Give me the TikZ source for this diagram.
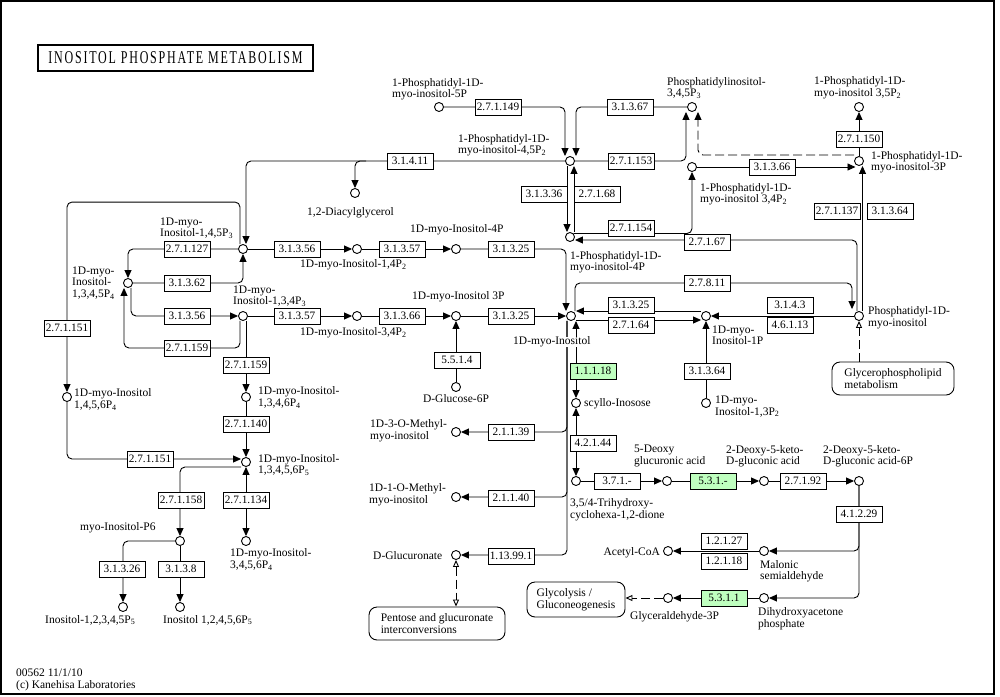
\documentclass[tikz,border=0pt]{standalone}
\usepackage{fontspec}
\setmainfont{Liberation Serif}
\usepackage{graphicx}
\usetikzlibrary{arrows.meta, backgrounds, positioning}
\definecolor{ecgreen}{HTML}{BFFFBF}
\newcommand{\subn}[1]{\textsubscript{#1}}

\begin{document}
\begin{tikzpicture}[x=1pt, y=-1pt,% pixel grid, y going down
         > = {Triangle[length=8pt,width=7pt]},
 cpd/.style = {circle, draw, fill=white, line width=0.9pt,
               minimum size=9pt, inner sep=0pt},
  ec/.style = {draw, fill=white, line width=0.9pt,
               minimum width=46pt, minimum height=16pt, inner sep=0pt,
               font=\fontsize{11.3}{11.3}\selectfont},
 ecg/.style = {ec, fill=ecgreen},
 lbl/.style = {inner sep=0pt, align=left,
               font=\fontsize{11.5}{11.5}\selectfont},
 map/.style = {draw, fill=white, line width=0.9pt, rounded corners=8pt,
               inner sep=0pt, align=left,
               font=\fontsize{11.5}{11.5}\selectfont},
  rx/.style = {line width=0.9pt, rounded corners=5pt},
oarr/.style = {line width=0.9pt, dash pattern=on 9pt off 4pt}
                    ]
	\useasboundingbox (0,0) rectangle (1000,696);
	\draw[line width=1.5pt] (1,1) rectangle (994,694);

	% title and footer
	\node[draw, line width=2pt, minimum width=275pt, minimum height=26pt, inner sep=0pt]
	     (title) at (175.5,58)
	     {\fontsize{12}{12}\selectfont\scalebox{1}[1.5]{\addfontfeatures{LetterSpace=15}INOSITOL PHOSPHATE METABOLISM}};
	\node[lbl, anchor=west] (foot) at (16,680) {00562 11/1/10\\(c) Kanehisa Laboratories};

	% compounds
	\node[cpd] (c_pi5p)     at (439,107) {};
	\node[cpd] (c_pip2)     at (570,161) {};
	\node[cpd] (c_pip3)     at (692,107) {};
	\node[cpd] (c_pi35p2)   at (859,107) {};
	\node[cpd] (c_pi3p)     at (859,161) {};
	\node[cpd] (c_pi34p2)   at (692,167) {};
	\node[cpd] (c_dag)      at (355,193) {};
	\node[cpd] (c_pi4p)     at (570,237) {};
	\node[cpd] (c_ip3)      at (243,249) {};
	\node[cpd] (c_ip2a)     at (357,249) {};
	\node[cpd] (c_ins4p)    at (456,249) {};
	\node[cpd] (c_ip4)      at (128,283) {};
	\node[cpd] (c_ins134p3) at (243,316) {};
	\node[cpd] (c_ip2b)     at (357,316) {};
	\node[cpd] (c_ins3p)    at (456,316) {};
	\node[cpd] (c_mi)       at (571,316) {};
	\node[cpd] (c_ins1p)    at (706,316) {};
	\node[cpd] (c_pi)       at (859,316) {};
	\node[cpd] (c_glc6p)    at (456,387) {};
	\node[cpd] (c_ins1456p4) at (67,397) {};
	\node[cpd] (c_ins1346p4) at (246,397) {};
	\node[cpd] (c_scyllo)   at (576,403) {};
	\node[cpd] (c_ins13p2)  at (706,403) {};
	\node[cpd] (c_m3)       at (456,432) {};
	\node[cpd] (c_ip5)      at (246,462) {};
	\node[cpd] (c_thd)      at (576,481) {};
	\node[cpd] (c_deoxy)    at (667,481) {};
	\node[cpd] (c_dkg)      at (764,481) {};
	\node[cpd] (c_dkgp)     at (859,481) {};
	\node[cpd] (c_m1)       at (456,497) {};
	\node[cpd] (c_ip6)      at (180,541) {};
	\node[cpd] (c_ins3456p4) at (246,541) {};
	\node[cpd] (c_acoa)     at (668,551) {};
	\node[cpd] (c_mal)      at (764,551) {};
	\node[cpd] (c_glcA)     at (456,555) {};
	\node[cpd] (c_gap)      at (668,598) {};
	\node[cpd] (c_dhap)     at (764,598) {};
	\node[cpd] (c_ip5a)     at (123,607) {};
	\node[cpd] (c_ip5b)     at (180,607) {};

	% enzymes
	\node[ec]  (e_271149)  at (498,107) {2.7.1.149};
	\node[ec]  (e_31367)   at (630,107) {3.1.3.67};
	\node[ec]  (e_31411)   at (410,161) {3.1.4.11};
	\node[ec]  (e_271153)  at (631,161) {2.7.1.153};
	\node[ec]  (e_271150)  at (859,139) {2.7.1.150};
	\node[ec]  (e_31366a)  at (772,167) {3.1.3.66};
	\node[ec]  (e_31336)   at (544,194) {3.1.3.36};
	\node[ec]  (e_27168)   at (597,194) {2.7.1.68};
	\node[ec]  (e_271137)  at (837,211) {2.7.1.137};
	\node[ec]  (e_31364a)  at (890,211) {3.1.3.64};
	\node[ec]  (e_271154)  at (631,228) {2.7.1.154};
	\node[ec]  (e_27167)   at (707,242) {2.7.1.67};
	\node[ec]  (e_271127)  at (187,249) {2.7.1.127};
	\node[ec]  (e_31356a)  at (297,249) {3.1.3.56};
	\node[ec]  (e_31357a)  at (402,249) {3.1.3.57};
	\node[ec]  (e_31325a)  at (511,249) {3.1.3.25};
	\node[ec]  (e_31362)   at (187,283) {3.1.3.62};
	\node[ec]  (e_27811)   at (707,283) {2.7.8.11};
	\node[ec]  (e_31356b)  at (187,316) {3.1.3.56};
	\node[ec]  (e_31357b)  at (297,316) {3.1.3.57};
	\node[ec]  (e_31366b)  at (402,316) {3.1.3.66};
	\node[ec]  (e_31325b)  at (511,316) {3.1.3.25};
	\node[ec]  (e_31325c)  at (631,305) {3.1.3.25};
	\node[ec]  (e_27164)   at (631,325) {2.7.1.64};
	\node[ec]  (e_3143)    at (790,305) {3.1.4.3};
	\node[ec]  (e_46113)   at (790,325) {4.6.1.13};
	\node[ec]  (e_271151a) at (67,328)  {2.7.1.151};
	\node[ec]  (e_271159a) at (187,348) {2.7.1.159};
	\node[ec]  (e_5514)    at (457,360) {5.5.1.4};
	\node[ec]  (e_271159b) at (246,365) {2.7.1.159};
	\node[ecg] (e_11118)   at (593,371) {1.1.1.18};
	\node[ec]  (e_31364b)  at (707,371) {3.1.3.64};
	\node[ec]  (e_271140)  at (246,424) {2.7.1.140};
	\node[ec]  (e_21139)   at (511,432) {2.1.1.39};
	\node[ec]  (e_42144)   at (593,443) {4.2.1.44};
	\node[ec]  (e_271151b) at (150,459) {2.7.1.151};
	\node[ec]  (e_371)     at (617,481) {3.7.1.-};
	\node[ecg] (e_531)     at (713,481) {5.3.1.-};
	\node[ec]  (e_27192)   at (803,481) {2.7.1.92};
	\node[ec]  (e_21140)   at (511,498) {2.1.1.40};
	\node[ec]  (e_271158)  at (181,500) {2.7.1.158};
	\node[ec]  (e_271134)  at (246,500) {2.7.1.134};
	\node[ec]  (e_41229)   at (859,514) {4.1.2.29};
	\node[ec]  (e_12127)   at (724,541) {1.2.1.27};
	\node[ec]  (e_12118)   at (724,561) {1.2.1.18};
	\node[ec]  (e_113991)  at (511,556) {1.13.99.1};
	\node[ec]  (e_31326)   at (122,569) {3.1.3.26};
	\node[ec]  (e_3138)    at (181,569) {3.1.3.8};
	\node[ecg] (e_5311)    at (724,598) {5.3.1.1};

	% pathway maps
	\node[map, minimum width=122pt, minimum height=33pt] (m_glycero)    at (893,378.5) {Glycerophospholipid\\metabolism};
	\node[map, minimum width=136pt, minimum height=33pt] (m_pentose)    at (437,623.5) {Pentose and glucuronate\\interconversions};
	\node[map, minimum width=98pt,  minimum height=35pt] (m_glycolysis) at (576,599.5) {Glycolysis /\\Gluconeogenesis};

	% compound names
	\node[lbl, anchor=west] (l_pi5p)     at (392,89)  {1-Phosphatidyl-1D-\\myo-inositol-5P};
	\node[lbl, anchor=west] (l_pip2)     at (458,145) {1-Phosphatidyl-1D-\\myo-inositol-4,5P\subn{2}};
	\node[lbl, anchor=west] (l_pip3)     at (667,88)  {Phosphatidylinositol-\\3,4,5P\subn{3}};
	\node[lbl, anchor=west] (l_pi35p2)   at (814,88)  {1-Phosphatidyl-1D-\\myo-inositol 3,5P\subn{2}};
	\node[lbl, anchor=west] (l_pi3p)     at (871,162) {1-Phosphatidyl-1D-\\myo-inositol-3P};
	\node[lbl, anchor=west] (l_pi34p2)   at (700,194) {1-Phosphatidyl-1D-\\myo-inositol 3,4P\subn{2}};
	\node[lbl, anchor=west] (l_dag)      at (307,213) {1,2-Diacylglycerol};
	\node[lbl, anchor=west] (l_pi4p)     at (570,262) {1-Phosphatidyl-1D-\\myo-inositol-4P};
	\node[lbl, anchor=west] (l_ip3)      at (160,228) {1D-myo-\\Inositol-1,4,5P\subn{3}};
	\node[lbl, anchor=west] (l_ip2a)     at (300,265) {1D-myo-Inositol-1,4P\subn{2}};
	\node[lbl, anchor=west] (l_ins4p)    at (410,230) {1D-myo-Inositol-4P};
	\node[lbl, anchor=west] (l_ip4)      at (72,283)  {1D-myo-\\Inositol-\\1,3,4,5P\subn{4}};
	\node[lbl, anchor=west] (l_ins134p3) at (233,296) {1D-myo-\\Inositol-1,3,4P\subn{3}};
	\node[lbl, anchor=west] (l_ip2b)     at (300,333) {1D-myo-Inositol-3,4P\subn{2}};
	\node[lbl, anchor=west] (l_ins3p)    at (412,297) {1D-myo-Inositol 3P};
	\node[lbl, anchor=west, fill=white] (l_mi) at (513,342) {1D-myo-Inositol};
	\node[lbl, anchor=west] (l_ins1p)    at (712,335.5) {1D-myo-\\Inositol-1P};
	\node[lbl, anchor=west] (l_pi)       at (868,317.5) {Phosphatidyl-1D-\\myo-inositol};
	\node[lbl]              (l_glc6p)    at (456,399) {D-Glucose-6P};
	\node[lbl, anchor=west] (l_ins13p2)  at (715,406.5) {1D-myo-\\Inositol-1,3P\subn{2}};
	\node[lbl, anchor=west] (l_scyllo)   at (584,404) {scyllo-Inosose};
	\node[lbl, anchor=west] (l_m3)       at (370,430.5) {1D-3-O-Methyl-\\myo-inositol};
	\node[lbl, anchor=west] (l_m1)       at (369,494.5) {1D-1-O-Methyl-\\myo-inositol};
	\node[lbl, anchor=west] (l_glcA)     at (373,556) {D-Glucuronate};
	\node[lbl, anchor=west] (l_ins1456p4) at (74,399.5) {1D-myo-Inositol\\1,4,5,6P\subn{4}};
	\node[lbl, anchor=west] (l_ins1346p4) at (258,397.5) {1D-myo-Inositol-\\1,3,4,6P\subn{4}};
	\node[lbl, anchor=west] (l_ip5)      at (258,465) {1D-myo-Inositol-\\1,3,4,5,6P\subn{5}};
	\node[lbl, anchor=west] (l_ins3456p4) at (230,559.5) {1D-myo-Inositol-\\3,4,5,6P\subn{4}};
	\node[lbl, anchor=west] (l_ip6)      at (80,528)  {myo-Inositol-P6};
	\node[lbl, anchor=west] (l_ip5a)     at (45,620)  {Inositol-1,2,3,4,5P\subn{5}};
	\node[lbl, anchor=west] (l_ip5b)     at (163,620) {Inositol 1,2,4,5,6P\subn{5}};
	\node[lbl, anchor=west] (l_thd)      at (570,509.5) {3,5/4-Trihydroxy-\\cyclohexa-1,2-dione};
	\node[lbl, anchor=west] (l_deoxy)    at (634,456) {5-Deoxy\\glucuronic acid};
	\node[lbl, anchor=west] (l_dkg)      at (726,456) {2-Deoxy-5-keto-\\D-gluconic acid};
	\node[lbl, anchor=west] (l_dkgp)     at (823,456) {2-Deoxy-5-keto-\\D-gluconic acid-6P};
	\node[lbl, anchor=east] (l_acoa)     at (660,553) {Acetyl-CoA};
	\node[lbl, anchor=west] (l_mal)      at (760,571) {Malonic\\semialdehyde};
	\node[lbl, anchor=west] (l_gap)      at (630,617) {Glyceraldehyde-3P};
	\node[lbl, anchor=west] (l_dhap)     at (758,618.5) {Dihydroxyacetone\\phosphate};

	% reactions
	\begin{scope}[on background layer]
	% phosphatidylinositols
	\draw[rx,->] (c_pi5p) -| ([xshift=-5pt]c_pip2.north);
	\draw[rx,->] (c_pip3) -| ([xshift=6pt]c_pip2.north);
	\draw[rx,->] (c_pip2) -| ([xshift=-6pt]c_pip3.south);
	\draw[oarr, rounded corners=5pt, -{Triangle[length=8pt,width=7pt]}]
	      ([yshift=6pt]c_pi3p.west) -| ([xshift=6pt]c_pip3.south);
	\draw[rx,->] (c_pi3p) -- (c_pi35p2);
	\draw[rx,->] (c_pi34p2) -- (c_pi3p.south west |- c_pi34p2);
	\draw[rx,->] ([xshift=-3pt]c_pip2.south) -- ([xshift=-3pt]c_pi4p.north);
	\draw[rx,->] ([xshift=4pt]c_pi4p.north) -- ([xshift=4pt]c_pip2.south);
	\draw[rx,->] (c_pi4p.north east) -| (c_pi34p2);
	\draw[rx,->] ([xshift=-2pt]c_pi.north) |- ([yshift=-3pt]c_pi4p.east);
	\draw[rx,->] ([xshift=3.5pt]c_pi.north) -- ([xshift=3.5pt]c_pi3p.south);
	\draw[rx,->] ([xshift=4pt]c_mi.north) |- (e_27811.center)
	             -| ([xshift=-7pt,yshift=2pt]c_pi.north);
	\draw[rx,->] (c_pi) -- (c_ins1p);
	\draw[rx,->] ([yshift=5pt]c_ins1p.west) -- ([yshift=5pt]c_mi.east);
	\draw[rx,->] ([yshift=-4pt]c_mi.east) -- ([yshift=-4pt]c_ins1p.west);
	\draw[rx,->] (c_ins13p2) -- (c_ins1p);
	\draw[oarr, -{Triangle[open,length=7pt,width=6pt]}] (c_pi |- m_glycero.north) -- (c_pi);
	% inositol phosphates
	\draw[rx,->] (c_pip2) -| ([xshift=3pt]c_ip3.north);
	\coordinate (k_dag) at (366,161);
	\draw[rx,->] (k_dag) -| (c_dag);
	\draw[rx,->] (c_ip3) -| (c_ip4);
	\draw[rx,->] (c_ip4) -| (c_ip3);
	\draw[rx,->] ([xshift=3pt]c_ip4.south) |- (c_ins134p3);
	\draw[rx,->] ([xshift=-3pt]c_ins134p3.south) |- (e_271159a.center)
	             -| ([xshift=-4pt]c_ip4.south);
	\draw[rx,->] (c_ip3) -- (c_ip2a);
	\draw[rx,->] (c_ip2a) -- (c_ins4p);
	\draw[rx,->] (c_ins4p) -| ([xshift=-5pt]c_mi.north);
	\draw[rx,->] (c_ins134p3) -- (c_ip2b);
	\draw[rx,->] (c_ip2b) -- (c_ins3p);
	\draw[rx,->] (c_ins3p) -- (c_mi);
	\draw[rx,->] (c_glc6p) -- (c_ins3p);
	\draw[rx,->] ([xshift=-3pt]c_ip3.north) -- ++(0,-42) -| (c_ins1456p4);
	\draw[rx,->] ([xshift=3pt]c_ins134p3.south) -- (c_ins1346p4);
	\draw[rx,->] (c_ins1346p4) -- (c_ip5);
	\draw[rx,->] (c_ins1456p4) |- ([yshift=3pt]c_ip5.west);
	\draw[rx,->] ([yshift=-5pt]c_ip5.west) -| (c_ip6);
	\draw[rx,<->] (c_ip5) -- (c_ins3456p4);
	\draw[rx,->] (c_ip6) -| (c_ip5a);
	\draw[rx,->] (c_ip6) -- (c_ip5b);
	% myo-inositol breakdown
	\draw[rx,<->] ([xshift=5pt]c_mi.south) -- (c_scyllo);
	\draw[rx,<->] (c_scyllo) -- (c_thd);
	\draw[rx,->] ([xshift=-4pt]c_mi.south) |- (c_m3);
	\draw[rx,->] ([xshift=-4pt]c_mi.south) |- (c_m1);
	\draw[rx,->] ([xshift=-4pt]c_mi.south) |- (c_glcA);
	\draw[oarr, {Triangle[open,length=7pt,width=6pt]}-{Triangle[open,length=7pt,width=6pt]}]
	      (c_glcA) -- (c_glcA |- m_pentose.north);
	\draw[rx,->] (c_thd) -- (c_deoxy);
	\draw[rx,->] (c_deoxy) -- (c_dkg);
	\draw[rx,->] (c_dkg) -- (c_dkgp);
	\draw[rx,->] (c_dkgp) |- (c_mal);
	\draw[rx,->] (c_dkgp) |- (c_dhap);
	\draw[rx,->] (c_mal) -- (c_acoa);
	\draw[rx,->] (c_dhap) -- (c_gap);
	\draw[oarr, -{Triangle[open,length=7pt,width=6pt]}] (c_gap) -- (m_glycolysis.east |- c_gap);
	\end{scope}
\end{tikzpicture}
\end{document}
